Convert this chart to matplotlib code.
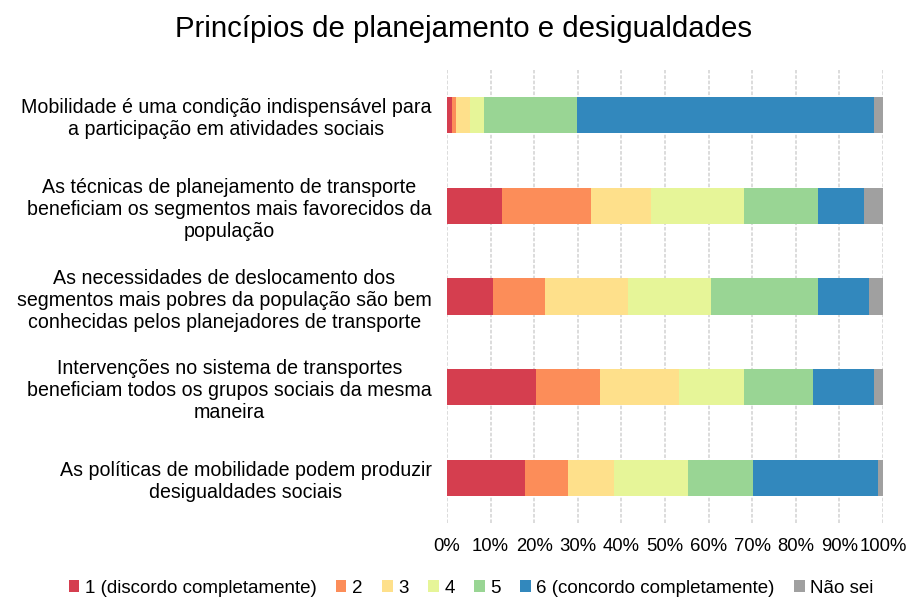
import matplotlib
matplotlib.use("Agg")
import matplotlib.pyplot as plt
import numpy as np

plt.rcParams['font.family'] = ['Liberation Sans', 'DejaVu Sans']

title = "Princípios de planejamento e desigualdades"
categories = [
    "Mobilidade é uma condição indispensável para\na participação em atividades sociais",
    "As técnicas de planejamento de transporte\nbeneficiam os segmentos mais favorecidos da\npopulação",
    "As necessidades de deslocamento dos\nsegmentos mais pobres da população são bem\nconhecidas pelos planejadores de transporte",
    "Intervenções no sistema de transportes\nbeneficiam todos os grupos sociais da mesma\nmaneira",
    "As políticas de mobilidade podem produzir\ndesigualdades sociais",
]
series_names = ["1 (discordo completamente)", "2", "3", "4", "5",
                "6 (concordo completamente)", "Não sei"]
s1 = [1.1, 12.6, 10.6, 20.3, 18.0]
s2 = [0.9, 20.5, 11.8, 14.8, 9.7]
s3 = [3.2, 13.7, 19.0, 18.1, 10.7]
s4 = [3.3, 21.3, 19.2, 14.9, 16.9]
s5 = [21.3, 17.1, 24.6, 15.9, 14.8]
s6 = [68.1, 10.4, 11.6, 13.9, 28.8]
nao_sei = [2.1, 4.4, 3.2, 2.1, 1.1]
xticklabels = ["0%", "10%", "20%", "30%", "40%", "50%", "60%", "70%", "80%", "90%", "100%"]

colors = ["#D53E4F", "#FC8D59", "#FEE08B", "#E6F598", "#99D594", "#3288BD", "#A0A0A0"]

fig = plt.figure(figsize=(9.08, 5.99), dpi=100)
ax = fig.add_axes([0.4923, 0.1269, 0.4802, 0.7562])

data = [s1, s2, s3, s4, s5, s6, nao_sei]
y = np.arange(len(categories))
left = np.zeros(len(categories))
for name, vals, c in zip(series_names, data, colors):
    vals = np.array(vals)
    ax.barh(y, vals, left=left, height=0.4, color=c, label=name, zorder=3)
    left += vals

ax.set_xlim(0, 100)
ax.set_ylim(len(categories) - 0.5, -0.5)
ax.set_yticks(y)
ax.set_yticklabels(categories, fontsize=14.1, multialignment='center')
ax.set_xticks(np.arange(0, 101, 10))
ax.set_xticklabels(xticklabels, fontsize=13.3)
ax.tick_params(axis='y', length=0, pad=11)
ax.tick_params(axis='x', length=0, pad=11)
for s in ax.spines.values():
    s.set_visible(False)
ax.grid(axis='x', color='#D9D9D9', linestyle=(0, (2, 1)), linewidth=1.3, zorder=0)
ax.set_axisbelow(True)

fig.suptitle(title, fontsize=21.2, x=0.51, y=0.975, va='top')

fig.legend(loc='center', bbox_to_anchor=(0.519, 0.018), ncol=7, frameon=False,
           fontsize=13.5, handlelength=0.55, handleheight=0.55, handletextpad=0.3,
           columnspacing=1.05, borderaxespad=0)

fig.savefig("out.png", dpi=100)
